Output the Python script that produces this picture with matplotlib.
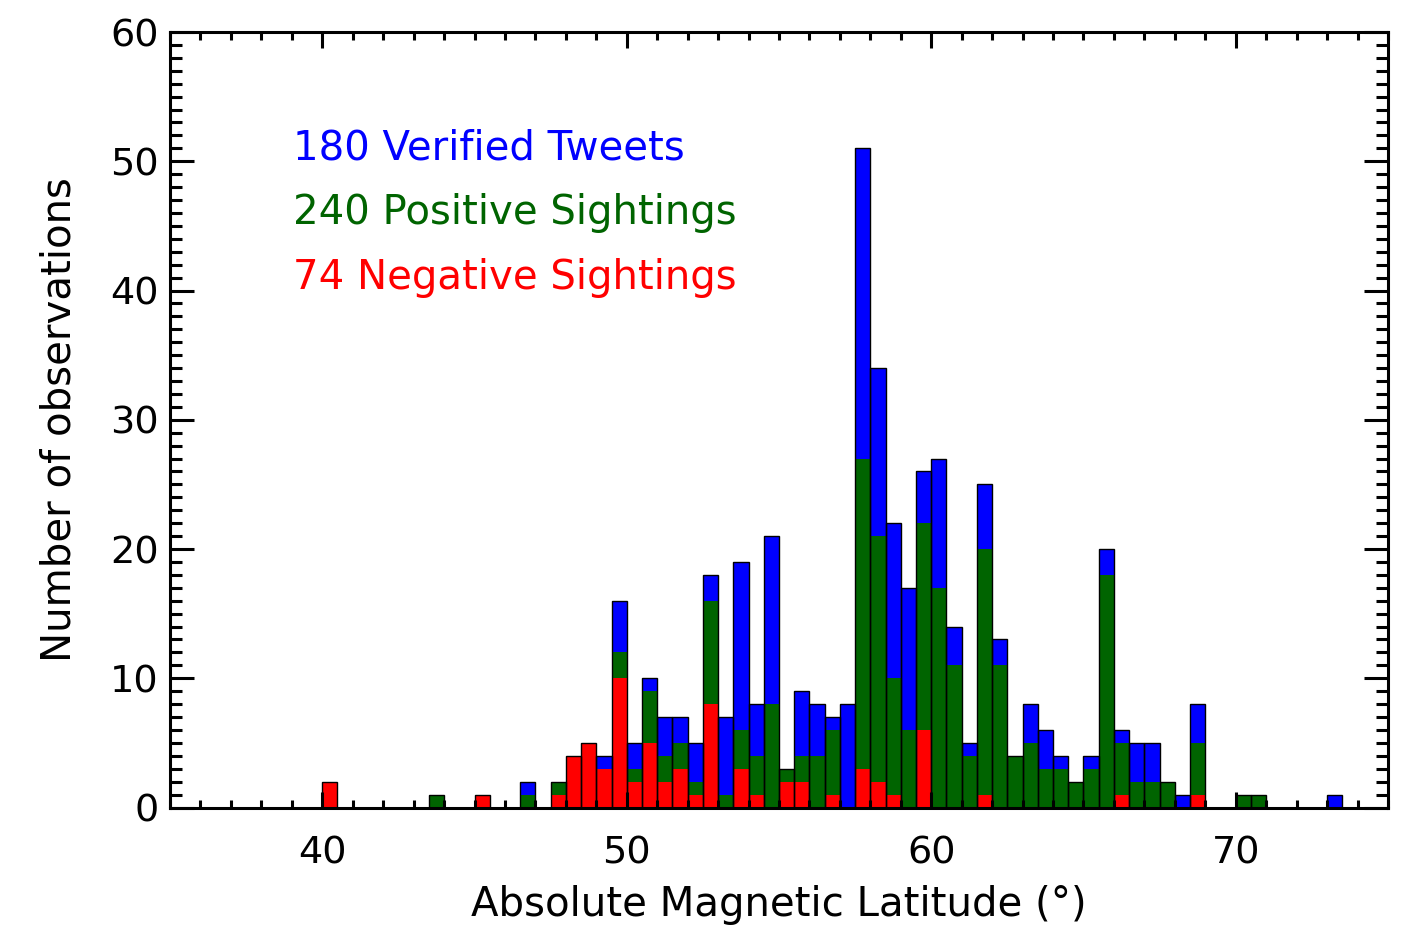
import numpy as np
import matplotlib.pyplot as plt
from matplotlib.ticker import MultipleLocator

plt.switch_backend('agg')

# left edge of each 0.5 degree latitude bin
bin_left = [40.0, 43.5, 45.0, 46.5, 47.5, 48.0, 48.5, 49.0, 49.5, 50.0,
            50.5, 51.0, 51.5, 52.0, 52.5, 53.0, 53.5, 54.0, 54.5, 55.0,
            55.5, 56.0, 56.5, 57.0, 57.5, 58.0, 58.5, 59.0, 59.5, 60.0,
            60.5, 61.0, 61.5, 62.0, 62.5, 63.0, 63.5, 64.0, 64.5, 65.0,
            65.5, 66.0, 66.5, 67.0, 67.5, 68.0, 68.5, 70.0, 70.5, 73.0]
negative = [2, 0, 1, 0, 1, 4, 5, 3, 10, 2,
            5, 2, 3, 1, 8, 0, 3, 1, 0, 2,
            2, 0, 1, 0, 3, 2, 1, 0, 6, 0,
            0, 0, 1, 0, 0, 0, 0, 0, 0, 0,
            0, 1, 0, 0, 0, 0, 1, 0, 0, 0]
positive = [0, 1, 0, 1, 1, 0, 0, 0, 2, 1,
            4, 2, 2, 1, 8, 1, 3, 3, 8, 1,
            2, 4, 5, 0, 24, 19, 9, 6, 16, 17,
            11, 4, 19, 11, 4, 5, 3, 3, 2, 3,
            18, 4, 2, 2, 2, 0, 4, 1, 1, 0]
tweets = [0, 0, 0, 1, 0, 0, 0, 1, 4, 2,
          1, 3, 2, 3, 2, 6, 13, 4, 13, 0,
          5, 4, 1, 8, 24, 13, 12, 11, 4, 10,
          3, 1, 5, 2, 0, 3, 3, 1, 0, 1,
          2, 1, 3, 3, 0, 1, 3, 0, 0, 1]
labels = ['180 Verified Tweets', '240 Positive Sightings', '74 Negative Sightings']
colors = ['#0000ff', '#006400', '#ff0000']

bin_w = 0.5
x = np.array(bin_left)
neg = np.array(negative)
pos = np.array(positive)
twt = np.array(tweets)

plt.rcParams['font.family'] = ['DejaVu Sans']
fig = plt.figure(figsize=(14.12, 9.33), dpi=100)
ax = fig.add_axes([0.1204, 0.1345, 0.8626, 0.8312])

ax.bar(x, neg, width=bin_w, align='edge', color=colors[2], linewidth=0)
ax.bar(x, pos, width=bin_w, bottom=neg, align='edge', color=colors[1], linewidth=0)
ax.bar(x, twt, width=bin_w, bottom=neg + pos, align='edge', color=colors[0], linewidth=0)
# black outline around each full column
ax.bar(x, neg + pos + twt, width=bin_w, align='edge', facecolor='none',
       edgecolor='black', linewidth=1.0)

ax.set_xlim(35, 75)
ax.set_ylim(0, 60)
ax.xaxis.set_major_locator(MultipleLocator(10))
ax.xaxis.set_minor_locator(MultipleLocator(1))
ax.yaxis.set_major_locator(MultipleLocator(10))
ax.yaxis.set_minor_locator(MultipleLocator(1))
ax.tick_params(which='both', direction='in', top=True, right=True, width=2.2,
               labelsize=27.5, color='black')
ax.tick_params(axis='x', which='major', length=11.5, pad=20)
ax.tick_params(axis='x', which='minor', length=5.8)
ax.tick_params(axis='y', which='major', length=17, pad=8)
ax.tick_params(axis='y', which='minor', length=8.5)
for s in ax.spines.values():
    s.set_linewidth(2.2)

ax.set_xlabel('Absolute Magnetic Latitude (°)', fontsize=29, labelpad=10)
ax.set_ylabel('Number of observations', fontsize=29, labelpad=22)

for i, (lab, c) in enumerate(zip(labels, colors)):
    ax.text(0.101, 0.850 - i * 0.0835, lab, color=c, fontsize=29,
            transform=ax.transAxes, va='center', ha='left')

fig.savefig('out.png', dpi=100)
